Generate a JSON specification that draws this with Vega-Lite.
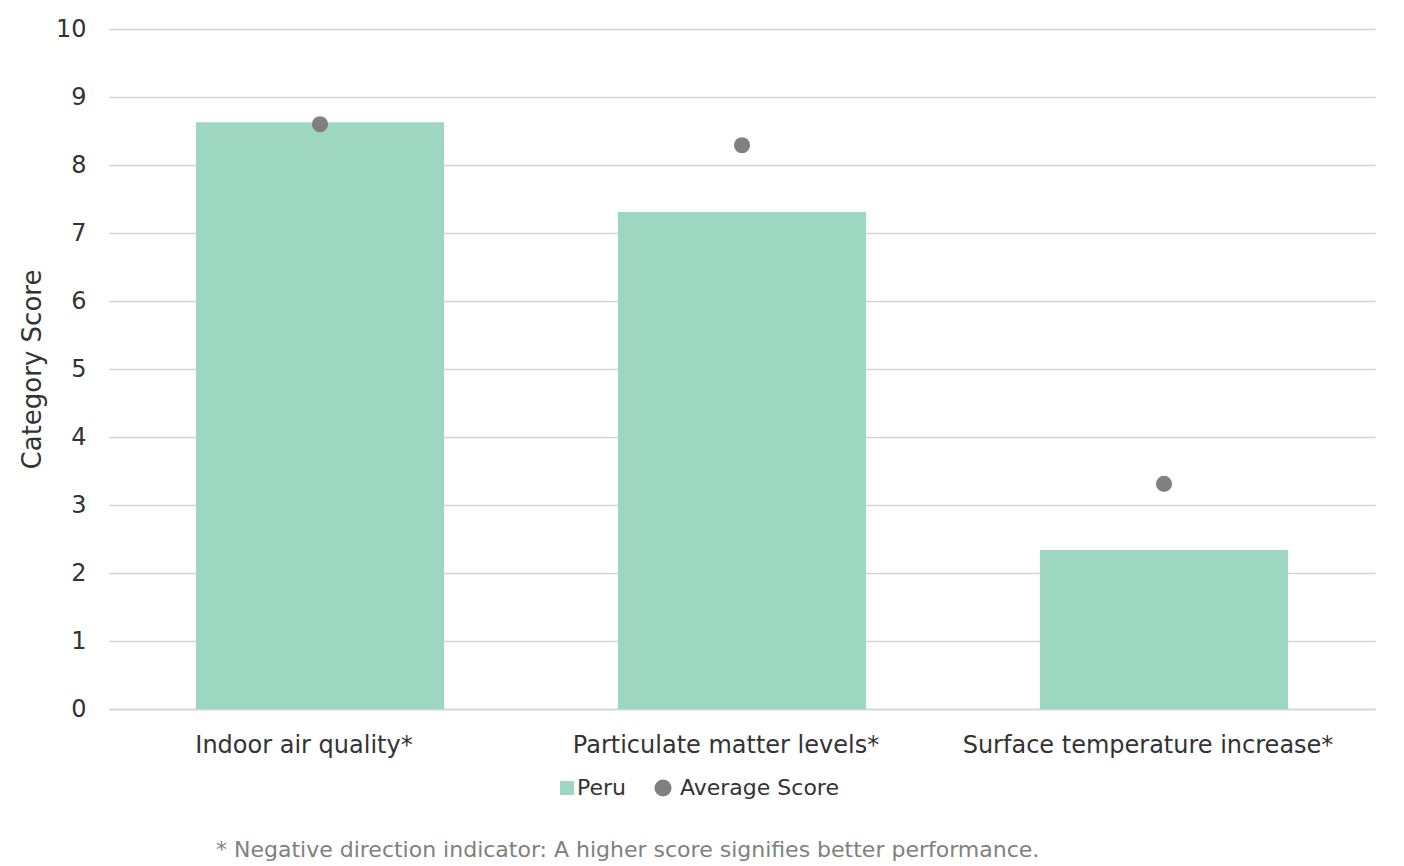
{
  "$schema": "https://vega.github.io/schema/vega-lite/v6.json",
  "autosize": "none",
  "width": 1266,
  "height": 680,
  "padding": {"left": 109, "top": 29, "right": 29, "bottom": 157},
  "background": "white",
  "config": {
    "font": "DejaVu Sans",
    "view": {"stroke": null},
    "axis": {
      "labelColor": "#333333",
      "titleColor": "#333333",
      "labelFont": "DejaVu Sans",
      "titleFont": "DejaVu Sans",
      "labelFontSize": 24,
      "labelLimit": 600,
      "ticks": false
    },
    "axisX": {
      "labelAngle": 0,
      "labelPadding": 24,
      "domain": true,
      "domainColor": "#d3d3d3",
      "domainWidth": 1.5
    },
    "axisY": {
      "titleFontSize": 26,
      "titleFontWeight": "normal",
      "titlePadding": 10,
      "labelPadding": 23,
      "domain": false,
      "gridColor": "#d3d3d3",
      "gridWidth": 1.5
    }
  },
  "title": {
    "text": "* Negative direction indicator: A higher score signifies better performance.",
    "orient": "bottom",
    "anchor": "start",
    "frame": "group",
    "dx": 107,
    "offset": 41,
    "fontSize": 22,
    "fontWeight": "normal",
    "color": "#808080",
    "font": "DejaVu Sans"
  },
  "data": {
    "values": [
      {"category": "Indoor air quality*", "peru": 8.63, "avg": 8.6},
      {"category": "Particulate matter levels*", "peru": 7.31, "avg": 8.29},
      {"category": "Surface temperature increase*", "peru": 2.34, "avg": 3.31}
    ]
  },
  "encoding": {
    "x": {
      "field": "category",
      "type": "nominal",
      "sort": null,
      "scale": {"paddingInner": 0.412, "paddingOuter": 0.206},
      "axis": {"title": null, "labelOffset": -16}
    }
  },
  "layer": [
    {
      "mark": {"type": "bar", "color": "#9dd7c1"},
      "encoding": {
        "y": {
          "field": "peru",
          "type": "quantitative",
          "scale": {"domain": [0, 10]},
          "axis": {"title": "Category Score", "values": [0, 1, 2, 3, 4, 5, 6, 7, 8, 9, 10]}
        },
        "color": {
          "datum": "Peru",
          "scale": {"domain": ["Peru", "Average Score"], "range": ["#9dd7c1", "#808080"]},
          "legend": {
            "title": null,
            "orient": "none",
            "direction": "horizontal",
            "legendX": 447,
            "legendY": 748,
            "labelFontSize": 22,
            "labelColor": "#333333",
            "labelFont": "DejaVu Sans",
            "columnPadding": 25,
            "labelOffset": 1,
            "encode": {
              "symbols": {
                "update": {
                  "shape": {"signal": "datum.label === 'Peru' ? 'square' : 'circle'"},
                  "size": {"signal": "datum.label === 'Peru' ? 196 : 290"},
                  "strokeWidth": {"value": 0}
                }
              },
              "labels": {
                "update": {
                  "dx": {"signal": "datum.label === 'Peru' ? -2 : 5"}
                }
              }
            }
          }
        }
      }
    },
    {
      "mark": {"type": "point", "shape": "circle", "filled": true, "opacity": 1, "size": 260},
      "encoding": {
        "y": {
          "field": "avg",
          "type": "quantitative",
          "axis": {"title": "Category Score", "values": [0, 1, 2, 3, 4, 5, 6, 7, 8, 9, 10]}
        },
        "color": {"datum": "Average Score"}
      }
    }
  ]
}
